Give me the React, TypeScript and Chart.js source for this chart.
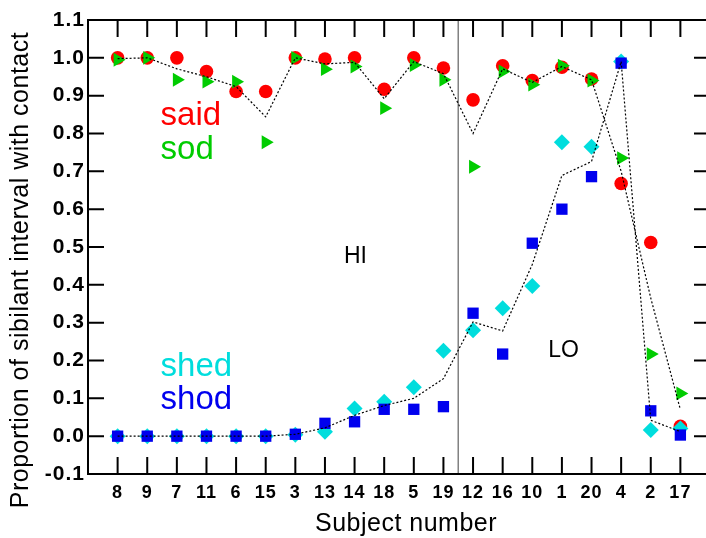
import React, { useEffect, useRef } from 'react';
import { Chart, registerables } from 'chart.js';

Chart.register(...registerables);

// Subject numbers along the x axis (positions 1..20)
const subjects = ['8', '9', '7', '11', '6', '15', '3', '13', '14', '18', '5', '19', '12', '16', '10', '1', '20', '4', '2', '17'];

const said = [1.0, 1.0, 1.0, 0.964, 0.911, 0.911, 1.0, 0.997, 1.0, 0.917, 1.0, 0.973, 0.889, 0.979, 0.94, 0.975, 0.944, 0.668, 0.512, 0.026];
const sod = [0.995, 1.0, 0.942, 0.937, 0.937, 0.777, 1.0, 0.97, 0.977, 0.867, 0.981, 0.942, 0.712, 0.964, 0.929, 0.979, 0.94, 0.735, 0.217, 0.113];
const shed = [0.0, 0.0, 0.0, 0.0, 0.0, 0.0, 0.004, 0.012, 0.073, 0.091, 0.129, 0.226, 0.28, 0.338, 0.397, 0.777, 0.765, 0.99, 0.016, 0.02];
const shod = [0.0, 0.0, 0.0, 0.0, 0.0, 0.0, 0.005, 0.034, 0.038, 0.071, 0.071, 0.078, 0.325, 0.217, 0.51, 0.6, 0.686, 0.986, 0.067, 0.003];
// dotted lines (upper: said/sod, lower: shed/shod)
const upperLine = [0.998, 1.0, 0.971, 0.95, 0.924, 0.844, 1.0, 0.984, 0.988, 0.892, 0.99, 0.958, 0.8, 0.971, 0.935, 0.977, 0.942, 0.7, 0.365, 0.07];
const lowerLine = [0.0, 0.0, 0.0, 0.0, 0.0, 0.0, 0.005, 0.022, 0.055, 0.081, 0.1, 0.152, 0.302, 0.278, 0.454, 0.689, 0.726, 0.99, 0.042, 0.012];

const yMin = -0.1;
const yMax = 1.1;
const yStep = 0.1;
// the HI group ends after subject 19 (12th position)
const groupSplit = 12.5;

const RED = '#ff0000';
const GREEN = '#00cc00';
const CYAN = '#00dddd';
const BLUE = '#0000ee';
const FONT = "'Liberation Sans', Arial, Helvetica, sans-serif";

const toPts = (arr: number[]) => arr.map((v, i) => ({ x: i + 1, y: v }));

const framePlugin = {
  id: 'frame',
  beforeDraw(chart: any) {
    (chart.ctx as any).letterSpacing = '1px';
  },
  beforeDatasetsDraw(chart: any) {
    const { ctx, chartArea: a, scales } = chart;
    (ctx as any).letterSpacing = '0px';
    const x = scales.x;
    const y = scales.y;
    ctx.save();
    // separator between HI and LO groups
    const sx = x.getPixelForValue(groupSplit);
    ctx.strokeStyle = '#808080';
    ctx.lineWidth = 1.5;
    ctx.beginPath();
    ctx.moveTo(sx, a.top);
    ctx.lineTo(sx, a.bottom);
    ctx.stroke();
    // frame
    ctx.strokeStyle = '#000';
    ctx.lineWidth = 2;
    ctx.strokeRect(a.left, a.top, a.right - a.left, a.bottom - a.top);
    ctx.beginPath();
    x.ticks.forEach((t: any) => {
      if (t.value < 1 || t.value > subjects.length) return;
      const px = x.getPixelForValue(t.value);
      ctx.moveTo(px, a.top);
      ctx.lineTo(px, a.top + 17);
      ctx.moveTo(px, a.bottom);
      ctx.lineTo(px, a.bottom - 17);
    });
    y.ticks.forEach((t: any) => {
      const py = y.getPixelForValue(t.value);
      ctx.moveTo(a.left, py);
      ctx.lineTo(a.left + 16, py);
      ctx.moveTo(a.right, py);
      ctx.lineTo(a.right - 16, py);
    });
    ctx.stroke();
    ctx.restore();
  },
  afterDraw(chart: any) {
    const { ctx, scales } = chart;
    const x = scales.x;
    const y = scales.y;
    ctx.save();
    (ctx as any).letterSpacing = '0px';
    const labels: [string, string, number, number, number][] = [
      ['said', RED, 2.45, 0.823, 33],
      ['sod', GREEN, 2.45, 0.733, 33],
      ['shed', CYAN, 2.45, 0.159, 33],
      ['shod', BLUE, 2.45, 0.071, 33],
      ['HI', '#000', 8.64, 0.458, 23],
      ['LO', '#000', 15.54, 0.21, 23],
    ];
    ctx.textBaseline = 'alphabetic';
    ctx.textAlign = 'left';
    labels.forEach(([txt, col, dx, dy, size]) => {
      ctx.fillStyle = col;
      ctx.font = `${size}px ${FONT}`;
      ctx.fillText(txt, x.getPixelForValue(dx), y.getPixelForValue(dy));
    });
    // axis titles
    ctx.fillStyle = '#000';
    ctx.font = `25px ${FONT}`;
    (ctx as any).letterSpacing = '0.5px';
    ctx.textAlign = 'center';
    ctx.fillText('Subject number', 406, 531);
    ctx.translate(28, 270);
    ctx.rotate(-Math.PI / 2);
    ctx.fillText('Proportion of sibilant interval with contact', 0, 0);
    ctx.restore();
  },
};

export default function App() {
  const ref = useRef<HTMLCanvasElement | null>(null);
  useEffect(() => {
    document.body.style.margin = '0';
    document.body.style.overflow = 'hidden';
    const canvas = ref.current!;
    const chart = new Chart(canvas, {
      type: 'scatter',
      data: {
        datasets: [
          {
            type: 'line',
            label: 'upper',
            data: toPts(upperLine),
            borderColor: '#000',
            borderWidth: 1.2,
            borderDash: [2, 2],
            pointRadius: 0,
            fill: false,
            tension: 0,
            showLine: true,
          } as any,
          {
            type: 'line',
            label: 'lower',
            data: toPts(lowerLine),
            borderColor: '#000',
            borderWidth: 1.2,
            borderDash: [2, 2],
            pointRadius: 0,
            fill: false,
            tension: 0,
            showLine: true,
          } as any,
          {
            label: 'shod',
            data: toPts(shod),
            pointStyle: 'rect',
            pointRadius: 8,
            backgroundColor: BLUE,
            borderColor: BLUE,
            borderWidth: 0,
          },
          {
            label: 'shed',
            data: toPts(shed),
            pointStyle: 'rectRot',
            pointRadius: 8,
            backgroundColor: CYAN,
            borderColor: CYAN,
            borderWidth: 0,
          },
          {
            label: 'sod',
            data: toPts(sod),
            pointStyle: 'triangle',
            rotation: 90,
            pointRadius: 8,
            backgroundColor: GREEN,
            borderColor: GREEN,
            borderWidth: 0,
          },
          {
            label: 'said',
            data: toPts(said),
            pointStyle: 'circle',
            pointRadius: 6.8,
            backgroundColor: RED,
            borderColor: RED,
            borderWidth: 0,
          },
        ],
      },
      options: {
        animation: false,
        responsive: false,
        devicePixelRatio: 1,
        layout: { padding: { top: 20, right: 10, left: 0, bottom: 0 } },
        plugins: { legend: { display: false }, tooltip: { enabled: false } },
        scales: {
          x: {
            type: 'linear',
            min: 0,
            max: subjects.length + 1,
            grid: { display: false, drawTicks: false, tickLength: 0 },
            border: { display: false },
            afterFit: (s: any) => {
              s.height = 64;
            },
            ticks: {
              stepSize: 1,
              autoSkip: false,
              maxRotation: 0,
              padding: 8,
              color: '#000',
              font: { family: FONT, size: 18, weight: 'bold' },
              callback: (v: any) => {
                const i = Math.round(Number(v));
                return i >= 1 && i <= subjects.length ? subjects[i - 1] : '';
              },
            },
          },
          y: {
            type: 'linear',
            min: yMin,
            max: yMax,
            grid: { display: false, drawTicks: false, tickLength: 0 },
            border: { display: false },
            afterFit: (s: any) => {
              s.width = 88;
            },
            ticks: {
              stepSize: yStep,
              padding: 3,
              color: '#000',
              font: { family: FONT, size: 21, weight: 'bold' },
              callback: (v: any) => Number(v).toFixed(1),
            },
          },
        },
      },
      plugins: [framePlugin],
    });
    return () => chart.destroy();
  }, []);
  return (
    <div style={{ position: 'fixed', left: 0, top: 0, width: 720, height: 538 }}>
      <canvas ref={ref} width={720} height={538} style={{ display: 'block', width: 720, height: 538 }} />
    </div>
  );
}
